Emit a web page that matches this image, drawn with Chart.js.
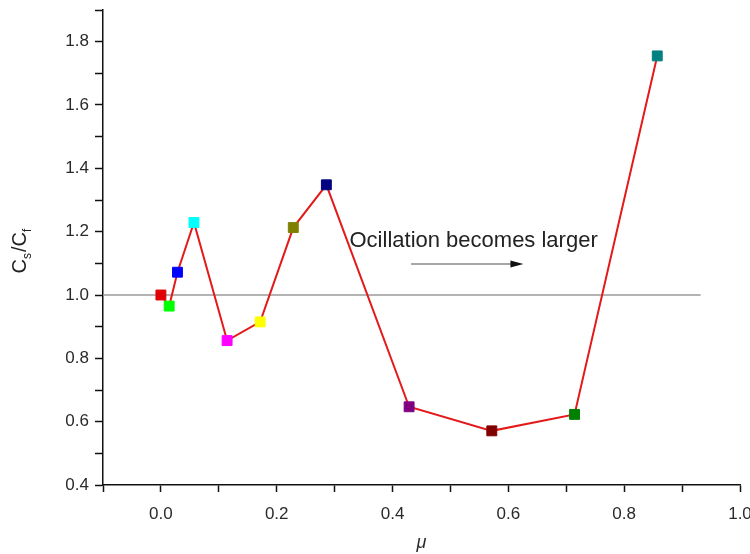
<!DOCTYPE html>
<html>
<head>
<meta charset="utf-8">
<script src="https://cdn.jsdelivr.net/npm/chart.js@4/dist/chart.umd.min.js"></script>
<style>
  html, body { margin: 0; padding: 0; background: #fff; }
  #wrap { width: 750px; height: 554px; }
</style>
</head>
<body>
<div id="wrap"><canvas id="c" width="750" height="554"></canvas></div>
<script>
// ---- data ----
const muValues = [0, 0.0143, 0.0286, 0.0571, 0.1143, 0.1714, 0.2286, 0.2857, 0.4286, 0.5714, 0.7143, 0.8571];
const ratioValues = [1.0, 0.965, 1.072, 1.229, 0.856, 0.915, 1.213, 1.348, 0.647, 0.571, 0.623, 1.755];
const pointColors = ['#e00000', '#00ff00', '#0000ff', '#00ffff', '#ff00ff', '#ffff00', '#808000', '#000080', '#800080', '#800000', '#008000', '#008080'];
const refLineX = [-0.1, 0.932];
const refLineY = [1.0, 1.0];
const xTickLabels = ['0.0', '0.2', '0.4', '0.6', '0.8', '1.0'];
const yTickLabels = ['0.4', '0.6', '0.8', '1.0', '1.2', '1.4', '1.6', '1.8'];
const noteText = 'Ocillation becomes larger';
const notePos = [0.54, 1.17];
const arrowFrom = [0.432, 1.098];
const arrowTo = [0.626, 1.098];

const FONT = '"Liberation Sans", Arial, sans-serif';

const overlay = {
  id: 'overlay',
  afterDraw(chart) {
    const ctx = chart.ctx;
    const xs = chart.scales.x, ys = chart.scales.y;
    ctx.save();
    // annotation text
    ctx.fillStyle = '#222';
    ctx.font = '22px ' + FONT;
    ctx.textAlign = 'center';
    ctx.textBaseline = 'middle';
    ctx.fillText(noteText, xs.getPixelForValue(notePos[0]), ys.getPixelForValue(notePos[1]));
    // arrow
    const ax0 = xs.getPixelForValue(arrowFrom[0]), ay = ys.getPixelForValue(arrowFrom[1]);
    const ax1 = xs.getPixelForValue(arrowTo[0]);
    ctx.strokeStyle = '#888';
    ctx.lineWidth = 1.5;
    ctx.beginPath();
    ctx.moveTo(ax0, ay);
    ctx.lineTo(ax1 - 8, ay);
    ctx.stroke();
    ctx.fillStyle = '#111';
    ctx.beginPath();
    ctx.moveTo(ax1, ay);
    ctx.lineTo(ax1 - 13, ay - 3.5);
    ctx.lineTo(ax1 - 13, ay + 3.5);
    ctx.closePath();
    ctx.fill();
    // y-axis title C_s / C_f
    const cy = (chart.chartArea.top + chart.chartArea.bottom) / 2 + 3;
    ctx.translate(19, cy);
    ctx.rotate(-Math.PI / 2);
    ctx.fillStyle = '#222';
    ctx.textAlign = 'left';
    ctx.textBaseline = 'alphabetic';
    const big = '20px ' + FONT, small = '12px ' + FONT;
    const parts = [['C', big, 0], ['s', small, 5], ['/C', big, 0], ['f', small, 5]];
    let total = 0;
    parts.forEach(p => { ctx.font = p[1]; total += ctx.measureText(p[0]).width + (p[1] === small ? 1 : 0); });
    let px = -total / 2;
    parts.forEach(p => {
      ctx.font = p[1];
      ctx.fillText(p[0], px, 7 + p[2]);
      px += ctx.measureText(p[0]).width + (p[1] === small ? 1 : 0);
    });
    ctx.restore();
  }
};

new Chart(document.getElementById('c'), {
  type: 'scatter',
  data: {
    datasets: [
      {
        data: refLineX.map((x, i) => ({ x: x, y: refLineY[i] })),
        showLine: true,
        borderColor: '#9a9a9a',
        borderWidth: 1.5,
        pointRadius: 0,
        order: 2
      },
      {
        data: muValues.map((x, i) => ({ x: x, y: ratioValues[i] })),
        showLine: true,
        borderColor: '#e41a1a',
        borderWidth: 2,
        pointStyle: 'rect',
        pointRadius: 7,
        pointHoverRadius: 7,
        pointBackgroundColor: pointColors,
        pointBorderColor: pointColors,
        pointBorderWidth: 1,
        order: 1
      }
    ]
  },
  options: {
    responsive: false,
    animation: false,
    events: [],
    layout: { padding: { top: 10, right: 10, left: 0, bottom: 0 } },
    plugins: { legend: { display: false }, tooltip: { enabled: false } },
    scales: {
      x: {
        type: 'linear',
        min: -0.1,
        max: 1.0,
        border: { display: true, color: '#111', width: 1.5 },
        grid: { drawOnChartArea: false, drawTicks: true, tickLength: 7, tickColor: '#111', tickWidth: 1.5 },
        ticks: {
          stepSize: 0.1,
          padding: 12,
          color: '#2a2a2a',
          font: { family: FONT, size: 17 },
          maxRotation: 0,
          autoSkip: false,
          callback: function (v) {
            const k = Math.round(v * 10);
            if (k < 0 || k % 2 !== 0) return '';
            return xTickLabels[k / 2];
          }
        },
        title: { display: true, text: 'μ', color: '#2a2a2a', font: { family: FONT, size: 18, style: 'italic' }, padding: { top: 0, bottom: 0 } },
        afterFit: function (s) { s.height = 69; s.paddingLeft = 0; s.paddingRight = 0; }
      },
      y: {
        type: 'linear',
        min: 0.4,
        max: 1.9,
        border: { display: true, color: '#111', width: 1.5 },
        grid: { drawOnChartArea: false, drawTicks: true, tickLength: 8, tickColor: '#111', tickWidth: 1.5 },
        ticks: {
          stepSize: 0.1,
          padding: 6,
          color: '#2a2a2a',
          font: { family: FONT, size: 17 },
          autoSkip: false,
          callback: function (v) {
            const k = Math.round(v * 10);
            if (k % 2 !== 0) return '';
            return yTickLabels[(k - 4) / 2];
          }
        },
        afterFit: function (s) { s.width = 103; s.paddingTop = 0; s.paddingBottom = 0; }
      }
    }
  },
  plugins: [overlay]
});
</script>
</body>
</html>
